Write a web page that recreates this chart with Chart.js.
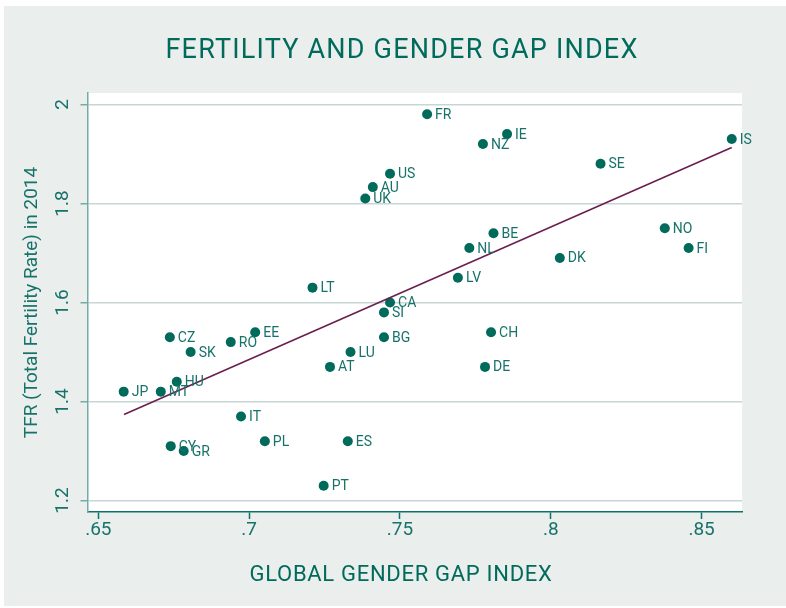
<!DOCTYPE html>
<html>
<head>
<meta charset="utf-8">
<title>Fertility and Gender Gap Index</title>
<script src="https://cdn.jsdelivr.net/npm/chart.js@4.4.1/dist/chart.umd.min.js"></script>
<style>
  html, body { margin: 0; padding: 0; background: #fff; }
  #wrap { position: absolute; left: 4px; top: 6px; width: 782px; height: 600px; background: #eaeeed; }
</style>
</head>
<body>
<div id="wrap"><canvas id="chart"></canvas></div>
<script>
// Country codes, Global Gender Gap Index (x) and TFR 2014 (y)
const countries = ['FR', 'IE', 'NZ', 'IS', 'SE', 'US', 'AU', 'UK', 'BE', 'NO', 'NL', 'FI', 'DK', 'LV', 'LT', 'CA', 'SI',
  'CH', 'BG', 'CZ', 'EE', 'RO', 'SK', 'LU', 'AT', 'DE', 'HU', 'JP', 'MT', 'IT', 'PL', 'ES', 'CY', 'GR', 'PT'];
const gapIndex = [0.759, 0.7855, 0.7775, 0.860, 0.8165, 0.7467, 0.741, 0.7385, 0.781, 0.8378, 0.773, 0.8457, 0.803, 0.7692, 0.721, 0.7467, 0.7447,
  0.7802, 0.7447, 0.6737, 0.702, 0.6939, 0.6806, 0.7336, 0.7268, 0.7782, 0.676, 0.6584, 0.6707, 0.6973, 0.7052, 0.7327, 0.674, 0.6783, 0.7247];
const fertility = [1.98, 1.94, 1.92, 1.93, 1.88, 1.86, 1.833, 1.81, 1.74, 1.75, 1.71, 1.71, 1.69, 1.65, 1.63, 1.60, 1.58,
  1.54, 1.53, 1.53, 1.54, 1.52, 1.50, 1.50, 1.47, 1.47, 1.44, 1.42, 1.42, 1.37, 1.32, 1.32, 1.31, 1.30, 1.23];

// Linear fit, end points
const fitX = [0.6585, 0.860];
const fitY = [1.374, 1.913];

// Tick values and labels
const xTicks = [0.65, 0.7, 0.75, 0.8, 0.85];
const xTickLabels = ['.65', '.7', '.75', '.8', '.85'];
const yTicks = [1.2, 1.4, 1.6, 1.8, 2];
const yTickLabels = ['1.2', '1.4', '1.6', '1.8', '2'];

const TEAL = '#006b5b';
const TEXT = '#17736a';
const LINE = '#6b1f4e';

const points = countries.map((c, i) => ({ x: gapIndex[i], y: fertility[i] }));
const fitLine = fitX.map((x, i) => ({ x: x, y: fitY[i] }));

// white plot area
const plotBg = {
  id: 'plotBg',
  beforeDraw(chart) {
    const { ctx, chartArea: a } = chart;
    ctx.save();
    ctx.fillStyle = '#ffffff';
    ctx.fillRect(a.left, a.top, a.right - a.left, a.bottom - a.top);
    ctx.restore();
  }
};

// country code next to every point
const pointLabels = {
  id: 'pointLabels',
  afterDatasetsDraw(chart) {
    const { ctx } = chart;
    const meta = chart.getDatasetMeta(0);
    ctx.save();
    ctx.font = '14px Roboto';
    ctx.fillStyle = TEXT;
    ctx.textAlign = 'left';
    ctx.textBaseline = 'middle';
    meta.data.forEach((pt, i) => {
      ctx.fillText(countries[i], pt.x + 8, pt.y + 1);
    });
    ctx.restore();
  }
};

// titles with a little tracking (top title and x axis title)
const titles = {
  id: 'titles',
  afterDraw(chart) {
    const { ctx } = chart;
    ctx.save();
    ctx.fillStyle = TEAL;
    ctx.textAlign = 'center';
    ctx.textBaseline = 'alphabetic';
    ctx.font = '27px Roboto';
    ctx.letterSpacing = '1.2px';
    ctx.fillText('FERTILITY AND GENDER GAP INDEX', 398, 51.5, 474);
    ctx.font = '22px Roboto';
    ctx.letterSpacing = '0.7px';
    ctx.fillText('GLOBAL GENDER GAP INDEX', 397, 575, 304);
    ctx.restore();
  }
};

new Chart(document.getElementById('chart'), {
  type: 'scatter',
  data: {
    datasets: [{
      label: 'TFR',
      data: points,
      backgroundColor: TEAL,
      borderColor: TEAL,
      pointRadius: 5,
      pointBorderWidth: 0,
      order: 2
    }, {
      label: 'Fitted values',
      data: fitLine,
      showLine: true,
      borderColor: LINE,
      borderWidth: 1.6,
      pointRadius: 0,
      fill: false,
      order: 1
    }]
  },
  options: {
    responsive: true,
    maintainAspectRatio: false,
    animation: false,
    layout: { padding: { top: 87, right: 44, left: 0, bottom: 0 } },
    plugins: {
      legend: { display: false },
      tooltip: { enabled: false },
      title: { display: false }
    },
    scales: {
      x: {
        type: 'linear',
        min: 0.6464,
        max: 0.8634,
        afterBuildTicks: s => { s.ticks = xTicks.map(v => ({ value: v })); },
        afterFit: s => { s.height = 94; },
        border: { color: '#0b7466', width: 1.5 },
        grid: { drawOnChartArea: false, drawTicks: true, tickLength: 7, tickColor: '#0b7466', tickWidth: 1.5 },
        ticks: {
          padding: 0,
          color: TEXT,
          font: { family: 'Roboto', size: 19 },
          maxRotation: 0,
          callback: (v, i) => xTickLabels[i]
        }
      },
      y: {
        type: 'linear',
        min: 1.177,
        max: 2.023,
        afterBuildTicks: s => { s.ticks = yTicks.map(v => ({ value: v })); },
        afterFit: s => { s.width = 83.5; },
        border: { color: '#74aba3', width: 1.5 },
        grid: { color: '#c8d5d5', lineWidth: 1.5, drawTicks: true, tickLength: 7, tickColor: '#74aba3', tickWidth: 1.5 },
        title: {
          display: true,
          text: 'TFR (Total Fertility Rate) in 2014',
          color: TEXT,
          font: { family: 'Roboto', size: 19 },
          padding: { top: 17, bottom: 0 }
        },
        ticks: {
          padding: 4,
          color: TEXT,
          font: { family: 'Roboto', size: 19 },
          minRotation: 90,
          maxRotation: 90,
          crossAlign: 'center',
          callback: (v, i) => yTickLabels[i]
        }
      }
    }
  },
  plugins: [plotBg, pointLabels, titles]
});
</script>
</body>
</html>
